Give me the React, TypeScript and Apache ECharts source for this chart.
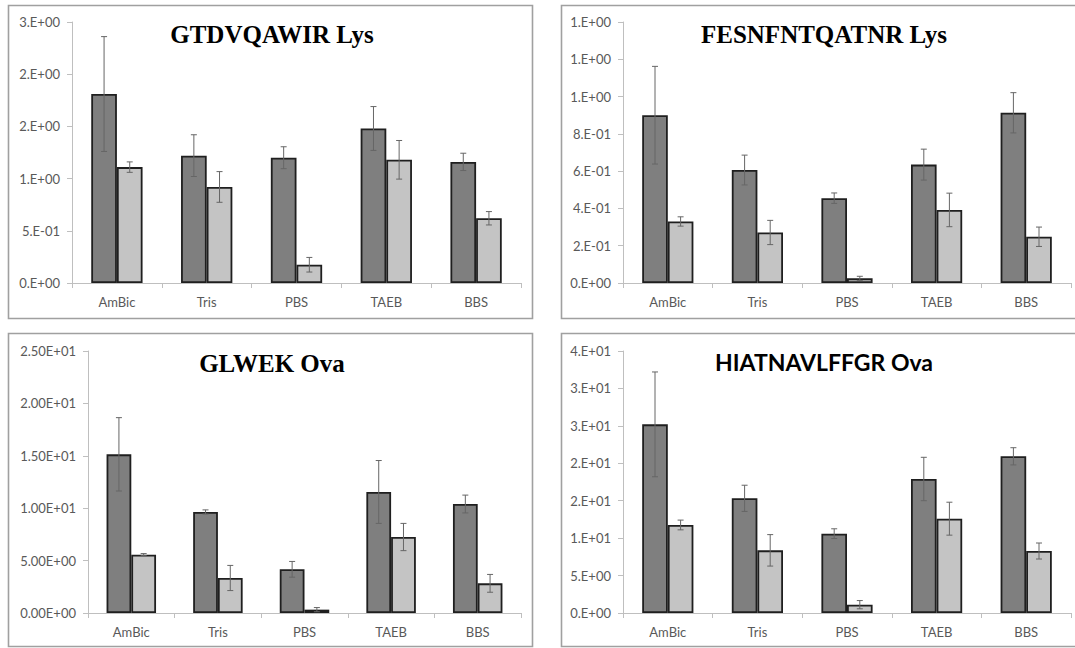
import React, { useEffect, useRef } from "react";
import * as echarts from "echarts";

const categories = ["AmBic", "Tris", "PBS", "TAEB", "BBS"];

const titles = ["GTDVQAWIR Lys", "FESNFNTQATNR Lys", "GLWEK Ova", "HIATNAVLFFGR Ova"];

// Panel 1: GTDVQAWIR Lys
const p1Dark = [1.81, 1.22, 1.2, 1.48, 1.16];
const p1DarkErr = [0.55, 0.2, 0.105, 0.21, 0.083];
const p1Light = [1.11, 0.92, 0.175, 1.18, 0.62];
const p1LightErr = [0.05, 0.147, 0.07, 0.185, 0.064];

// Panel 2: FESNFNTQATNR Lys
const p2Dark = [0.9, 0.606, 0.455, 0.635, 0.913];
const p2DarkErr = [0.262, 0.08, 0.028, 0.083, 0.108];
const p2Light = [0.33, 0.271, 0.025, 0.392, 0.248];
const p2LightErr = [0.025, 0.065, 0.011, 0.09, 0.052];

// Panel 3: GLWEK Ova
const p3Dark = [15.14, 9.64, 4.17, 11.55, 10.4];
const p3DarkErr = [3.5, 0.2, 0.75, 3.0, 0.85];
const p3Light = [5.57, 3.34, 0.32, 7.25, 2.83];
const p3LightErr = [0.1, 1.2, 0.2, 1.3, 0.85];

// Panel 4: HIATNAVLFFGR Ova
const p4Dark = [25.2, 15.32, 10.6, 17.9, 20.93];
const p4DarkErr = [7.0, 1.75, 0.65, 2.9, 1.15];
const p4Light = [11.76, 8.37, 1.11, 12.6, 8.28];
const p4LightErr = [0.65, 2.1, 0.55, 2.2, 1.07];

const yMax = [2.5, 1.4, 25, 35];
const yInterval = [0.5, 0.2, 5, 5];
const yDecimals = [0, 0, 2, 0];

const panels = [
  { dark: p1Dark, darkErr: p1DarkErr, light: p1Light, lightErr: p1LightErr },
  { dark: p2Dark, darkErr: p2DarkErr, light: p2Light, lightErr: p2LightErr },
  { dark: p3Dark, darkErr: p3DarkErr, light: p3Light, lightErr: p3LightErr },
  { dark: p4Dark, darkErr: p4DarkErr, light: p4Light, lightErr: p4LightErr },
];

function sci(v: number, digits: number): string {
  let exp = 0;
  let m = 0;
  if (Math.abs(v) > 1e-12) {
    exp = Math.floor(Math.log10(Math.abs(v)) + 1e-9);
    m = Number((v / Math.pow(10, exp)).toPrecision(12));
    const f = Math.pow(10, digits);
    m = Math.round(m * f + 1e-9) / f;
    if (m >= 10) {
      m = m / 10;
      exp += 1;
    }
  }
  const ms = digits === 0 ? `${Math.round(m)}.` : m.toFixed(digits);
  const sign = exp < 0 ? "-" : "+";
  const e = String(Math.abs(exp)).padStart(2, "0");
  return `${ms}E${sign}${e}`;
}

const grids = [
  { left: 72, top: 22, width: 449, height: 261 },
  { left: 623, top: 22, width: 448, height: 261 },
  { left: 88, top: 351, width: 433, height: 262 },
  { left: 623, top: 351, width: 448, height: 262 },
];

const boxes = [
  { x: 8.5, y: 5.5, w: 524, h: 313 },
  { x: 561.5, y: 5.5, w: 540, h: 313 },
  { x: 8.5, y: 333.5, w: 524, h: 313 },
  { x: 561.5, y: 333.5, w: 540, h: 313 },
];

const titlePos = [
  { x: 272, y: 34, font: 'bold 25px "Liberation Serif", "Times New Roman", serif' },
  { x: 824, y: 34, font: 'bold 25px "Liberation Serif", "Times New Roman", serif' },
  { x: 272, y: 363, font: 'bold 25px "Liberation Serif", "Times New Roman", serif' },
  { x: 824, y: 362, font: 'bold 23px Lato, "Noto Sans", sans-serif' },
];

function errRender(sign: number) {
  return (_params: any, api: any) => {
    const idx = api.value(0);
    const v = api.value(1);
    const e = api.value(2);
    const band = api.size([1, 0])[0];
    const bw = band / 3.5;
    const cx = api.coord([idx, v])[0] + (sign * bw) / 2;
    const yTop = api.coord([idx, v + e])[1];
    const yBot = api.coord([idx, Math.max(0, v - e)])[1];
    const cap = 3;
    const st = { stroke: "#666666", lineWidth: 1 };
    return {
      type: "group",
      children: [
        { type: "line", shape: { x1: cx, y1: yTop, x2: cx, y2: yBot }, style: st },
        { type: "line", shape: { x1: cx - cap, y1: yTop, x2: cx + cap, y2: yTop }, style: st },
        { type: "line", shape: { x1: cx - cap, y1: yBot, x2: cx + cap, y2: yBot }, style: st },
      ],
    };
  };
}

export default function App() {
  const ref = useRef<HTMLDivElement>(null);
  useEffect(() => {
    if (!ref.current) return;
    const chart = echarts.init(ref.current, undefined, { renderer: "svg" });
    const labelFont = "Lato, 'Noto Sans', sans-serif";
    const xAxis: any[] = [];
    const yAxis: any[] = [];
    const series: any[] = [];
    panels.forEach((p, i) => {
      xAxis.push({
        type: "category",
        gridIndex: i,
        data: categories,
        axisLine: { lineStyle: { color: "#bfbfbf", width: 1 } },
        axisTick: { show: true, length: 5, lineStyle: { color: "#bfbfbf" } },
        axisLabel: { color: "#595959", fontFamily: labelFont, fontSize: 13, margin: 12 },
        splitLine: { show: false },
      });
      yAxis.push({
        type: "value",
        gridIndex: i,
        min: 0,
        max: yMax[i],
        interval: yInterval[i],
        axisLine: { show: true, lineStyle: { color: "#bfbfbf", width: 1 } },
        axisTick: { show: true, length: 5, lineStyle: { color: "#bfbfbf" } },
        axisLabel: {
          color: "#595959",
          fontFamily: labelFont,
          fontSize: 13,
          margin: 12,
          formatter: (v: number) => sci(v, yDecimals[i]),
        },
        splitLine: { show: false },
      });
      series.push({
        type: "bar",
        xAxisIndex: i,
        yAxisIndex: i,
        data: p.dark,
        barGap: "0%",
        barCategoryGap: "42.857%",
        itemStyle: { color: "#7f7f7f", borderColor: "#1f1f1f", borderWidth: 1.8 },
      });
      series.push({
        type: "bar",
        xAxisIndex: i,
        yAxisIndex: i,
        data: p.light,
        barGap: "0%",
        barCategoryGap: "42.857%",
        itemStyle: { color: "#c4c4c4", borderColor: "#1f1f1f", borderWidth: 1.8 },
      });
      series.push({
        type: "custom",
        xAxisIndex: i,
        yAxisIndex: i,
        renderItem: errRender(-1),
        encode: { x: 0, y: 1 },
        data: p.dark.map((v, k) => [k, v, p.darkErr[k]]),
        z: 10,
      });
      series.push({
        type: "custom",
        xAxisIndex: i,
        yAxisIndex: i,
        renderItem: errRender(1),
        encode: { x: 0, y: 1 },
        data: p.light.map((v, k) => [k, v, p.lightErr[k]]),
        z: 10,
      });
    });

    const graphic: any[] = [];
    boxes.forEach((b) => {
      graphic.push({
        type: "rect",
        shape: { x: b.x, y: b.y, width: b.w, height: b.h },
        style: { fill: "none", stroke: "#a0a0a0", lineWidth: 1.6 },
        z: -1,
      });
    });
    titles.forEach((t, i) => {
      graphic.push({
        type: "text",
        x: titlePos[i].x,
        y: titlePos[i].y,
        style: {
          text: t,
          font: titlePos[i].font,
          fill: "#000000",
          textAlign: "center",
          textVerticalAlign: "middle",
        },
        z: 20,
      });
    });

    chart.setOption({
      animation: false,
      backgroundColor: "#ffffff",
      grid: grids.map((g) => ({ ...g, containLabel: false })),
      xAxis,
      yAxis,
      series,
      graphic,
    });
    return () => chart.dispose();
  }, []);
  return (
    <div
      ref={ref}
      style={{ position: "fixed", left: 0, top: 0, width: 1075, height: 648 }}
    />
  );
}
